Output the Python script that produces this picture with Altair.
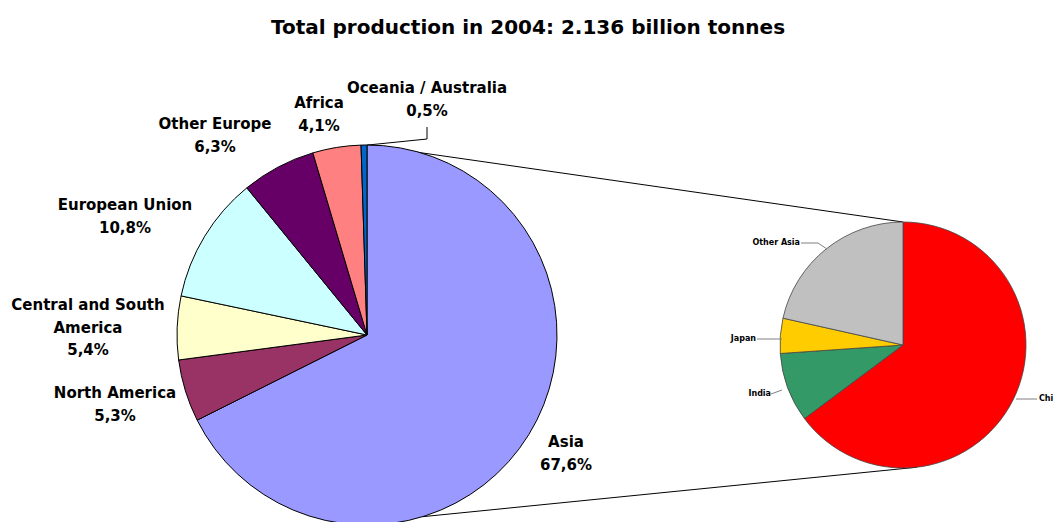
import math
import altair as alt
import pandas as pd

# ---------------- data ----------------
regions = ["Asia", "North America", "Central and South America", "European Union",
           "Other Europe", "Africa", "Oceania / Australia"]
region_shares = [67.6, 5.3, 5.4, 10.8, 6.3, 4.1, 0.5]
region_share_text = ["67,6%", "5,3%", "5,4%", "10,8%", "6,3%", "4,1%", "0,5%"]
region_label_lines = [["Asia"], ["North America"], ["Central and South", "America"],
                      ["European Union"], ["Other Europe"], ["Africa"], ["Oceania / Australia"]]

asia_parts = ["China", "India", "Japan", "Other Asia"]
asia_shares = [64.8, 9.1, 4.6, 21.5]

title_text = "Total production in 2004: 2.136 billion tonnes"

# ---------------- styles / layout ----------------
region_colors = ["#9999FF", "#993366", "#FFFFCC", "#CCFFFF", "#660066", "#FF8080", "#0066CC"]
asia_colors = ["#FF0000", "#339966", "#FFCC00", "#C0C0C0"]

W, H = 1045, 514
OFF = 8  # page margin
MAIN_CX, MAIN_CY, MAIN_R = 367 - OFF, 335 - OFF, 190
SUB_CX, SUB_CY, SUB_R = 903 - OFF, 345 - OFF, 123

FONT = "DejaVu Sans"
LABEL_SIZE = 15
LINE_GAP = 22.5

# centre of first text line of each main label (page coords)
region_label_pos = [(566, 442), (115, 393), (88, 305), (125, 205), (215, 124), (319, 103), (427, 88)]

# small labels of the secondary pie: (x anchor, y, align)
asia_label_pos = [(1039, 399, "left"), (771, 394, "right"), (756, 339, "right"), (800, 243, "right")]
asia_leaders = [[(1016, 399), (1037, 399)], [(771, 394), (782, 390)],
                [(757, 339), (782, 339)], [(801, 243), (818, 243), (827, 249)]]
oceania_leader = [(427, 127), (427, 139), (368, 145)]

# connector angles (deg, clockwise from top)
CONN_MAIN = [0.0, 163.0]
CONN_SUB = [0.0, 173.5]


def edge(cx, cy, r, deg):
    a = math.radians(deg)
    return cx + r * math.sin(a), cy - r * math.cos(a)


# ---------------- tables ----------------
main_df = pd.DataFrame({"name": regions, "share": region_shares,
                        "color": region_colors, "idx": range(len(regions))})
sub_df = pd.DataFrame({"name": asia_parts, "share": asia_shares,
                       "color": asia_colors, "idx": range(len(asia_parts))})

text_rows = []
for lines, share, (lx, ly) in zip(region_label_lines, region_share_text, region_label_pos):
    for i, t in enumerate(lines + [share]):
        text_rows.append({"x": lx - OFF, "y": ly - OFF + i * LINE_GAP, "t": t})
text_df = pd.DataFrame(text_rows)

small_rows = []
for name, (lx, ly, al) in zip(asia_parts, asia_label_pos):
    small_rows.append({"x": lx - OFF, "y": ly - OFF, "t": name, "align": al})
small_df = pd.DataFrame(small_rows)

seg_rows = []
for path in asia_leaders:
    for (x1, y1), (x2, y2) in zip(path[:-1], path[1:]):
        seg_rows.append({"x": x1 - OFF, "y": y1 - OFF, "x2": x2 - OFF, "y2": y2 - OFF})
gray_df = pd.DataFrame(seg_rows)

blk = []
for (x1, y1), (x2, y2) in zip(oceania_leader[:-1], oceania_leader[1:]):
    blk.append({"x": x1 - OFF, "y": y1 - OFF, "x2": x2 - OFF, "y2": y2 - OFF})
for am, asub in zip(CONN_MAIN, CONN_SUB):
    x1, y1 = edge(MAIN_CX, MAIN_CY, MAIN_R, am)
    x2, y2 = edge(SUB_CX, SUB_CY, SUB_R, asub)
    blk.append({"x": x1, "y": y1, "x2": x2, "y2": y2})
black_df = pd.DataFrame(blk)

title_df = pd.DataFrame({"x": [528 - OFF], "y": [28 - OFF], "t": [title_text]})

# ---------------- marks ----------------
theta = alt.Theta("share:Q", stack=True, scale=alt.Scale(domain=[0, 100]))
order = alt.Order("idx:Q", sort="ascending")
col = alt.Color("color:N", scale=None, legend=None)

main_pie = alt.Chart(main_df).mark_arc(radius=MAIN_R, stroke="#000000", strokeWidth=1).encode(
    theta=theta, order=order, color=col,
    x=alt.value(MAIN_CX), y=alt.value(MAIN_CY))

sub_pie = alt.Chart(sub_df).mark_arc(radius=SUB_R, stroke="#444444", strokeWidth=0.8).encode(
    theta=theta, order=order, color=col,
    x=alt.value(SUB_CX), y=alt.value(SUB_CY))

px = lambda f: alt.X(f, type="quantitative", scale=None, axis=None)
py = lambda f: alt.Y(f, type="quantitative", scale=None, axis=None)

black_lines = alt.Chart(black_df).mark_rule(color="#000000", strokeWidth=1).encode(
    x=px("x"), y=py("y"), x2="x2", y2="y2")
gray_lines = alt.Chart(gray_df).mark_rule(color="#808080", strokeWidth=1).encode(
    x=px("x"), y=py("y"), x2="x2", y2="y2")

labels = alt.Chart(text_df).mark_text(font=FONT, fontSize=LABEL_SIZE, fontWeight="bold",
                                      baseline="middle", align="center", color="#000000").encode(
    x=px("x"), y=py("y"), text="t:N")

small_left = alt.Chart(small_df[small_df["align"] == "left"]).mark_text(
    font=FONT, fontSize=8, fontWeight="bold", baseline="middle", align="left", color="#000000").encode(
    x=px("x"), y=py("y"), text="t:N")
small_right = alt.Chart(small_df[small_df["align"] == "right"]).mark_text(
    font=FONT, fontSize=8, fontWeight="bold", baseline="middle", align="right", color="#000000").encode(
    x=px("x"), y=py("y"), text="t:N")

title = alt.Chart(title_df).mark_text(font=FONT, fontSize=20, fontWeight="bold",
                                      baseline="middle", align="center", color="#000000").encode(
    x=px("x"), y=py("y"), text="t:N")

chart = alt.layer(black_lines, main_pie, sub_pie, gray_lines, labels, small_left, small_right, title).properties(
    width=W, height=H, autosize=alt.AutoSizeParams(type="none"), padding=0
).configure_view(stroke=None)

chart.save("out.html", embed_options={"renderer": "svg", "actions": False})
